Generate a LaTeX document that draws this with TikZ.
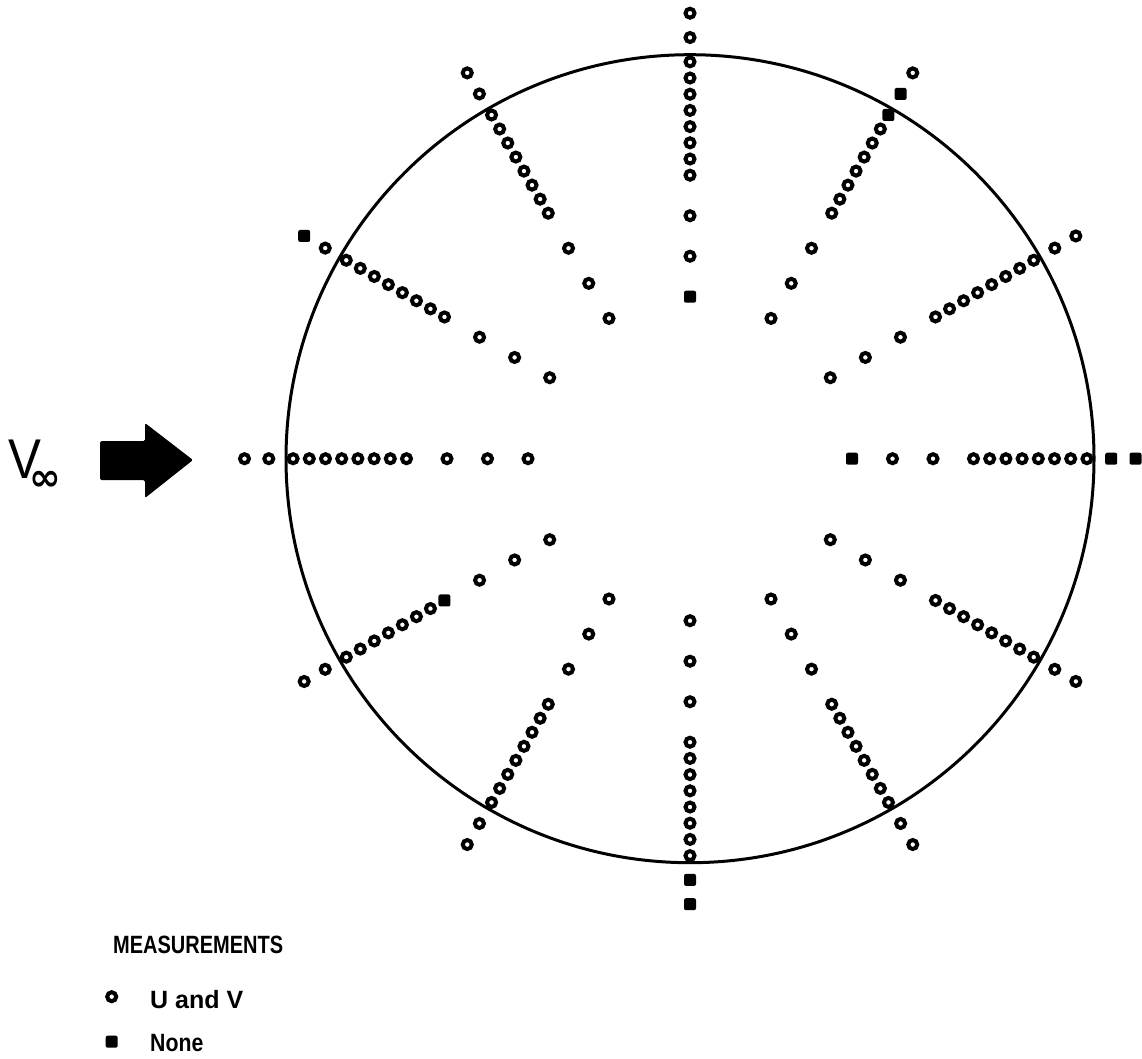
\documentclass[tikz,border=0pt]{standalone}
\usepackage{fontspec}
\setmainfont{Liberation Sans}
\newfontfamily\symfont{DejaVu Sans}
\begin{document}
\begin{tikzpicture}[x=1pt,y=-1pt,
  uvpt/.style={circle,draw=black,line width=4pt,minimum size=9pt,inner sep=0pt},
  nopt/.style={rectangle,fill=black,minimum size=12pt,inner sep=0pt,rounded corners=2pt},
  legtext/.style={anchor=base west,inner sep=0pt,font=\bfseries\fontsize{25}{30}\selectfont}]
\useasboundingbox (0,0) rectangle (1142,1058);
\coordinate (C) at (690,458.7);
% main circle
\draw[line width=3pt] (C) circle[radius=404];
% measurement points along 12 rays
\foreach \ang/\types in {
  0/{nopt,uvpt,uvpt,uvpt,uvpt,uvpt,uvpt,uvpt,uvpt,uvpt,uvpt,nopt,nopt},
  30/{uvpt,uvpt,uvpt,uvpt,uvpt,uvpt,uvpt,uvpt,uvpt,uvpt,uvpt,uvpt,uvpt},
  60/{uvpt,uvpt,uvpt,uvpt,uvpt,uvpt,uvpt,uvpt,uvpt,uvpt,nopt,nopt,uvpt},
  90/{nopt,uvpt,uvpt,uvpt,uvpt,uvpt,uvpt,uvpt,uvpt,uvpt,uvpt,uvpt,uvpt},
  120/{uvpt,uvpt,uvpt,uvpt,uvpt,uvpt,uvpt,uvpt,uvpt,uvpt,uvpt,uvpt,uvpt},
  150/{uvpt,uvpt,uvpt,uvpt,uvpt,uvpt,uvpt,uvpt,uvpt,uvpt,uvpt,uvpt,nopt},
  180/{uvpt,uvpt,uvpt,uvpt,uvpt,uvpt,uvpt,uvpt,uvpt,uvpt,uvpt,uvpt,uvpt},
  210/{uvpt,uvpt,uvpt,nopt,uvpt,uvpt,uvpt,uvpt,uvpt,uvpt,uvpt,uvpt,uvpt},
  240/{uvpt,uvpt,uvpt,uvpt,uvpt,uvpt,uvpt,uvpt,uvpt,uvpt,uvpt,uvpt,uvpt},
  270/{uvpt,uvpt,uvpt,uvpt,uvpt,uvpt,uvpt,uvpt,uvpt,uvpt,uvpt,nopt,nopt},
  300/{uvpt,uvpt,uvpt,uvpt,uvpt,uvpt,uvpt,uvpt,uvpt,uvpt,uvpt,uvpt,uvpt},
  330/{uvpt,uvpt,uvpt,uvpt,uvpt,uvpt,uvpt,uvpt,uvpt,uvpt,uvpt,uvpt,uvpt}} {
  \foreach \t [count=\i] in \types {
    \pgfmathsetmacro{\fr}{{0.40,0.50,0.60,0.70,0.74,0.78,0.82,0.86,0.90,0.94,0.98,1.04,1.10}[\i-1]}
    \pgfmathsetmacro{\px}{690+\fr*405*cos(\ang)}
    \pgfmathsetmacro{\py}{458.7-\fr*405*sin(\ang)}
    \node[\t] (m-\ang-\i) at (\px,\py) {};
  }
}
% free-stream arrow
\fill[rounded corners=1.5pt] (100,441) -- (145,441) -- (145,423) -- (193,460)
  -- (145,498) -- (145,480) -- (100,480) -- cycle;
% V-infinity label
\node[anchor=base west,inner sep=0pt] (vinf) at (8,478)
  {\scalebox{0.88}[1]{\fontsize{56}{60}\selectfont V}\hspace{-12pt}\raisebox{-12pt}{\symfont\bfseries\fontsize{38}{40}\selectfont ∞}};
% legend
\node[legtext] (legtitle) at (113,953) {\scalebox{0.8}[1]{MEASUREMENTS}};
\node[uvpt] (leg-uv) at (111.7,996.7) {};
\node[legtext] (leg-uvtext) at (150,1008) {U and V};
\node[nopt] (leg-no) at (111.7,1041.7) {};
\node[legtext] (leg-notext) at (150,1051) {\scalebox{0.85}[1]{None}};
\end{tikzpicture}
\end{document}
